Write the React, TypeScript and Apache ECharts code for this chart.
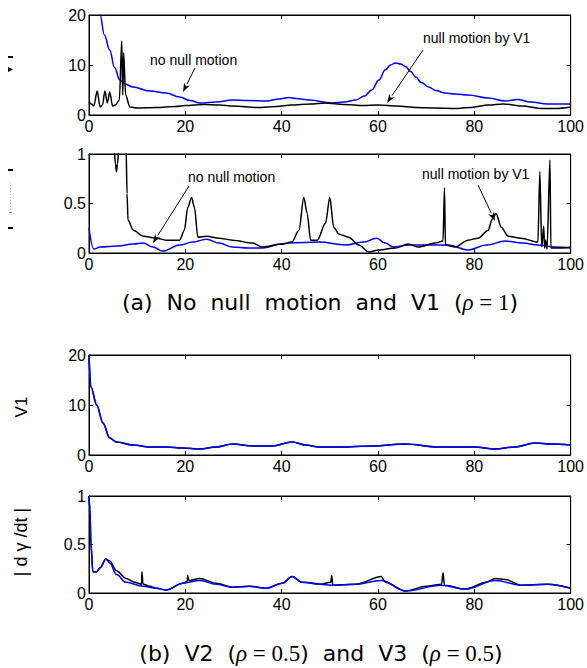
import React, { useEffect, useRef } from "react";
import * as echarts from "echarts";

// ---------- data ----------
const xTicks = [0, 20, 40, 60, 80, 100];

// (a) top: V1
const aV1Black: [number, number][] = [
  [0, 2.6], [0.5, 2.2], [1, 1.8], [1.7, 4.8], [2.3, 1.6], [2.8, 2.0], [3.3, 4.8], [3.8, 2.4], [4.3, 4.6], [4.9, 1.8], [5.5, 2.0], [6.3, 3.0],
  [6.8, 14.8], [7.0, 4], [7.2, 12.4], [7.6, 4], [8.5, 1.6], [10, 1.4], [14, 1.5], [18, 1.7], [20, 1.9], [24, 2.1], [27, 2.0],
  [30, 1.8], [35, 1.5], [39, 1.7], [42, 2.0], [46, 2.2], [49, 2.4], [53, 2.1], [57, 1.9], [60, 2.0], [64, 1.8], [68, 1.5],
  [72, 1.4], [76, 1.3], [79, 1.5], [83, 2.0], [86, 2.2], [90, 1.8], [94, 1.3], [97, 1.3], [100, 1.6],
];
const aV1Blue: [number, number][] = [
  [0, 45], [1.2, 30], [2.3, 20], [3.2, 16], [4.3, 13], [5.3, 9.5], [6.4, 7], [7.5, 6.2], [9.1, 5.6], [12.6, 4.8], [16, 4.4],
  [18.8, 3.6], [21, 2.9], [23, 2.4], [26.4, 2.6], [29.8, 3.0], [33, 2.9], [36.8, 2.8], [39.5, 3.2], [41.5, 3.5], [43, 3.3],
  [45.7, 3.0], [50.4, 2.4], [53, 2.6], [55.4, 3.0], [57.2, 3.8], [58.7, 5.0], [60.2, 7.0], [61.5, 9.0], [62.6, 10.0], [63.6, 10.4],
  [64.7, 10.2], [65.7, 9.7], [66.8, 8.7], [67.8, 7.6], [69, 6.5], [70.5, 5.6], [72, 4.9], [73.9, 4.4], [76, 4.2], [78.7, 4.0],
  [82.9, 3.4], [86.4, 2.8], [89, 3.1], [91.7, 2.6], [95.2, 2.2], [100, 2.2],
];

// (a) bottom: |dγ/dt|
const aDgBlack: [number, number][] = [
  [0, 1.6], [5.2, 1.05], [5.5, 0.9], [5.7, 0.82], [5.9, 0.9], [6.2, 1.05], [7.4, 1.6], [7.7, 1.05], [7.9, 0.6], [8.1, 0.33],
  [9.2, 0.23], [11.3, 0.17], [14, 0.15], [16, 0.13], [18.8, 0.13], [19.8, 0.23], [20.5, 0.46], [21.3, 0.56], [21.9, 0.46],
  [22.6, 0.16], [24.4, 0.17], [27, 0.15], [29.8, 0.13], [34, 0.1], [36, 0.06], [40, 0.09], [42.1, 0.11], [43.6, 0.23],
  [44.6, 0.56], [45.3, 0.4], [46, 0.13], [47.4, 0.13], [49.1, 0.3], [50, 0.56], [50.8, 0.26], [51.9, 0.19], [53.9, 0.16],
  [56, 0.08], [58.1, 0.01], [60.1, 0.03], [63.6, 0.05], [66.3, 0.09], [68.4, 0.06], [71.9, 0.1], [73.5, 0.12], [73.8, 0.66],
  [74, 0.08], [76, 0.06], [78.7, 0.13], [80.8, 0.15], [82.9, 0.23], [83.7, 0.34], [84.5, 0.4], [85.6, 0.26], [87, 0.17],
  [89.7, 0.15], [93.2, 0.11], [93.6, 0.82], [94, 0.06], [94.4, 0.27], [94.6, 0.05], [94.8, 0.13], [95.1, 0.04], [95.7, 0.94],
  [95.9, 0.05], [98, 0.05], [100, 0.06],
];
const aDgBlue: [number, number][] = [
  [0, 0.25], [1, 0.04], [2.3, 0.06], [6, 0.07], [9.2, 0.09], [11.2, 0.1], [13.3, 0.06], [15.3, 0.02], [18.8, 0.08],
  [21.5, 0.11], [24.4, 0.14], [27, 0.1], [29.8, 0.06], [33, 0.05], [36, 0.05], [40, 0.09], [41.5, 0.1], [47.7, 0.11],
  [53.3, 0.08], [57, 0.11], [59.7, 0.15], [61.5, 0.1], [63.2, 0.06], [66.3, 0.08], [70, 0.08], [74.6, 0.08], [78.7, 0.03],
  [82.5, 0.08], [86.4, 0.12], [90, 0.1], [93.2, 0.08], [96.7, 0.06], [100, 0.05],
];

// (b) top: V1
const bV1Black: [number, number][] = [
  [0, 20], [0.4, 13.6], [1.6, 10], [2.9, 6.4], [4.3, 3.4], [5.7, 2.6], [9.1, 2.0], [12.6, 1.6], [16, 1.6], [19.5, 1.4],
  [23, 1.2], [26.4, 1.6], [29.8, 2.2], [34, 1.8], [38, 1.8], [42.2, 2.6], [45, 2.0], [47.7, 1.6], [51.9, 1.6], [58.7, 1.8],
  [65.7, 2.2], [72.5, 1.6], [80, 1.6], [84.3, 1.2], [88.4, 1.6], [92.6, 2.4], [95.9, 2.2], [100, 2.0],
];
const bV1Blue: [number, number][] = [
  [0, 20], [0.4, 13.6], [1.6, 10], [2.9, 6.4], [4.3, 3.4], [5.7, 2.6], [9.1, 2.0], [12.6, 1.6], [16, 1.6], [19.5, 1.4],
  [23, 1.2], [26.4, 1.6], [29.8, 2.2], [34, 1.8], [38, 1.8], [42.2, 2.6], [45, 2.0], [47.7, 1.6], [51.9, 1.6], [58.7, 1.8],
  [65.7, 2.2], [72.5, 1.6], [80, 1.6], [84.3, 1.2], [88.4, 1.6], [92.6, 2.4], [95.9, 2.2], [100, 2.0],
];

// (b) bottom: |dγ/dt|
const bDgBlack: [number, number][] = [
  [0, 1.0], [0.2, 0.86], [0.4, 0.5], [0.8, 0.22], [1.6, 0.22], [2.3, 0.26], [3.5, 0.35], [4.3, 0.33], [5.7, 0.23], [7.7, 0.15],
  [9.5, 0.11], [10.9, 0.09], [11.0, 0.22], [11.2, 0.09], [12.6, 0.07], [14, 0.05], [16, 0.03], [19.5, 0.1], [20.4, 0.12],
  [20.5, 0.18], [20.7, 0.13], [23, 0.15], [26.4, 0.1], [29.8, 0.06], [33.3, 0.07], [36.8, 0.05], [40.1, 0.1], [42.2, 0.17],
  [44.2, 0.11], [48, 0.09], [50.2, 0.11], [50.4, 0.18], [50.6, 0.08], [55.4, 0.09], [60.7, 0.17], [61.5, 0.11], [65.7, 0.02],
  [70, 0.07], [73.2, 0.09], [73.5, 0.21], [73.8, 0.08], [78.1, 0.04], [82.5, 0.11], [84.3, 0.15], [86.4, 0.14], [89.7, 0.08],
  [95.2, 0.09], [100, 0.05],
];
const bDgBlue: [number, number][] = [
  [0, 1.0], [0.2, 0.86], [0.4, 0.5], [0.8, 0.22], [1.6, 0.22], [2.3, 0.26], [3.5, 0.35], [4.3, 0.31], [5.7, 0.19], [7.7, 0.11],
  [11.2, 0.07], [14, 0.05], [16, 0.03], [19.5, 0.1], [23, 0.13], [26.4, 0.09], [29.8, 0.06], [33.3, 0.07], [36.8, 0.05],
  [40.1, 0.1], [42.2, 0.17], [44.2, 0.11], [50.4, 0.08], [55.4, 0.09], [60.7, 0.13], [65.7, 0.02], [73.2, 0.08], [78.1, 0.04],
  [84.3, 0.13], [89.7, 0.08], [95.2, 0.09], [100, 0.05],
];

const yMaxes = [20, 1, 20, 1];
const yIntervals = [10, 0.5, 10, 0.5];
const yLabelsText = ["", "", "V1", "| d γ /dt |"];
const captionA = "(a)  No  null  motion  and  V1  (";
const captionB1 = "(b)  V2  (";
const captionB2 = ")  and  V3  (";

// ---------- layout ----------
const GRID_LEFT = 89;
const GRID_W = 484;
const gridTops = [15, 154, 355, 496];
const gridHeights = [100, 99, 100, 97];

const SANS = "Arial, 'Liberation Sans', sans-serif";
const CAP = "'DejaVu Sans', Arial, sans-serif";
const SERIF = "'Liberation Serif', 'DejaVu Serif', serif";

function arrow(x1: number, y1: number, x2: number, y2: number): any[] {
  const dx = x2 - x1;
  const dy = y2 - y1;
  const len = Math.sqrt(dx * dx + dy * dy);
  const ux = dx / len;
  const uy = dy / len;
  const hl = 9;
  const hw = 3.2;
  const bx = x2 - ux * hl;
  const by = y2 - uy * hl;
  return [
    { type: "line", shape: { x1, y1, x2: bx, y2: by }, style: { stroke: "#000", lineWidth: 1 } },
    {
      type: "polygon",
      shape: { points: [[x2, y2], [bx - uy * hw, by + ux * hw], [x2 - ux * hl * 0.7, y2 - uy * hl * 0.7], [bx + uy * hw, by - ux * hw]] },
      style: { fill: "#000" },
    },
  ];
}

export default function App() {
  const ref = useRef<HTMLDivElement>(null);
  useEffect(() => {
    if (!ref.current) return;
    const chart = echarts.init(ref.current, null, { renderer: "svg" });
    const grids: any[] = [];
    const xAxes: any[] = [];
    const yAxes: any[] = [];
    const series: any[] = [];
    const seriesData = [
      [aV1Black, aV1Blue],
      [aDgBlack, aDgBlue],
      [bV1Black, bV1Blue],
      [bDgBlack, bDgBlue],
    ];
    for (let i = 0; i < 4; i++) {
      grids.push({
        left: GRID_LEFT,
        top: gridTops[i],
        width: GRID_W,
        height: gridHeights[i],
        show: true,
        borderColor: "#000",
        borderWidth: 1,
        backgroundColor: "transparent",
      });
      const baseX = {
        gridIndex: i,
        type: "value",
        min: xTicks[0],
        max: xTicks[xTicks.length - 1],
        interval: 20,
        axisLine: { show: true, onZero: false, lineStyle: { color: "#000", width: 1 } },
        axisTick: { show: true, inside: true, length: 4, lineStyle: { color: "#000" } },
        splitLine: { show: false },
      };
      xAxes.push({
        ...baseX,
        position: "bottom",
        axisLabel: { show: true, color: "#000", fontSize: 16, fontFamily: SANS, margin: 3 },
      });
      xAxes.push({ ...baseX, position: "top", axisLabel: { show: false } });
      const baseY = {
        gridIndex: i,
        type: "value",
        min: 0,
        max: yMaxes[i],
        interval: yIntervals[i],
        axisLine: { show: true, onZero: false, lineStyle: { color: "#000", width: 1 } },
        axisTick: { show: true, inside: true, length: 4, lineStyle: { color: "#000" } },
        splitLine: { show: false },
      };
      yAxes.push({
        ...baseY,
        position: "left",
        axisLabel: { show: true, color: "#000", fontSize: 16, fontFamily: SANS, margin: 3 },
      });
      yAxes.push({ ...baseY, position: "right", axisLabel: { show: false } });
      const [blk, blu] = seriesData[i];
      series.push({
        type: "line",
        xAxisIndex: i * 2,
        yAxisIndex: i * 2,
        data: blk,
        showSymbol: false,
        clip: true,
        smooth: 0.3,
        smoothMonotone: "x",
        lineStyle: { color: "#000", width: 1.5 },
        z: 2,
      });
      series.push({
        type: "line",
        xAxisIndex: i * 2,
        yAxisIndex: i * 2,
        data: blu,
        showSymbol: false,
        clip: true,
        smooth: 0.4,
        smoothMonotone: "x",
        lineStyle: { color: "#0000ff", width: 1.5 },
        z: i >= 2 ? 3 : 1,
      });
    }

    const annoStyle = { fill: "#000", fontSize: 14, fontFamily: SANS };
    const capRich = {
      a: { fontSize: 22, fontFamily: CAP, fill: "#000" },
      r: { fontSize: 23, fontFamily: SERIF, fontStyle: "italic", fill: "#000" },
      e: { fontSize: 23, fontFamily: SERIF, fill: "#000" },
    };
    const graphic: any[] = [
      { type: "text", x: 150, y: 60, style: { ...annoStyle, text: "no null motion", verticalAlign: "middle" } },
      ...arrow(195, 68, 183, 92),
      { type: "text", x: 423, y: 38, style: { ...annoStyle, text: "null motion by V1", verticalAlign: "middle" } },
      ...arrow(423, 50, 387, 103),
      { type: "text", x: 188, y: 177, style: { ...annoStyle, text: "no null motion", verticalAlign: "middle" } },
      ...arrow(189, 186, 153, 243),
      { type: "text", x: 422, y: 174, style: { ...annoStyle, text: "null motion by V1", verticalAlign: "middle" } },
      ...arrow(478, 185, 495, 221),
      // fragments of cut-off y labels in (a)
      { type: "rect", shape: { x: 8, y: 56, width: 5, height: 2 }, style: { fill: "#000" } },
      { type: "polygon", shape: { points: [[8, 67], [13, 69.5], [8, 72]] }, style: { fill: "#000" } },
      { type: "rect", shape: { x: 8, y: 169, width: 5, height: 2 }, style: { fill: "#000" } },
      { type: "line", shape: { x1: 10.5, y1: 182, x2: 10.5, y2: 212 }, style: { stroke: "#bbb", lineWidth: 1, lineDash: [1, 2] } },
      { type: "line", shape: { x1: 9, y1: 213, x2: 12, y2: 212 }, style: { stroke: "#888", lineWidth: 1 } },
      { type: "rect", shape: { x: 8, y: 227, width: 5, height: 2 }, style: { fill: "#000" } },
      // y labels in (b)
      {
        type: "text",
        x: 21,
        y: 407,
        rotation: Math.PI / 2,
        style: { text: yLabelsText[2], fill: "#000", fontSize: 17, fontFamily: SANS, align: "center", verticalAlign: "middle" },
      },
      {
        type: "text",
        x: 21,
        y: 542,
        rotation: Math.PI / 2,
        style: { text: yLabelsText[3], fill: "#000", fontSize: 18, fontFamily: SANS, align: "center", verticalAlign: "middle" },
      },
      // captions
      {
        type: "text",
        x: 320,
        y: 302,
        style: {
          text: `{a|${captionA}}{r|ρ}{e| = 1}{a|)}`,
          align: "center",
          verticalAlign: "middle",
          rich: capRich,
        },
      },
      {
        type: "text",
        x: 321,
        y: 653,
        style: {
          text: `{a|${captionB1}}{r|ρ}{e| = 0.5}{a|${captionB2}}{r|ρ}{e| = 0.5}{a|)}`,
          align: "center",
          verticalAlign: "middle",
          rich: capRich,
        },
      },
    ];

    chart.setOption({
      animation: false,
      backgroundColor: "#fff",
      grid: grids,
      xAxis: xAxes,
      yAxis: yAxes,
      series,
      graphic,
    });
    return () => chart.dispose();
  }, []);
  return <div ref={ref} style={{ position: "fixed", left: 0, top: 0, width: 587, height: 668 }} />;
}
